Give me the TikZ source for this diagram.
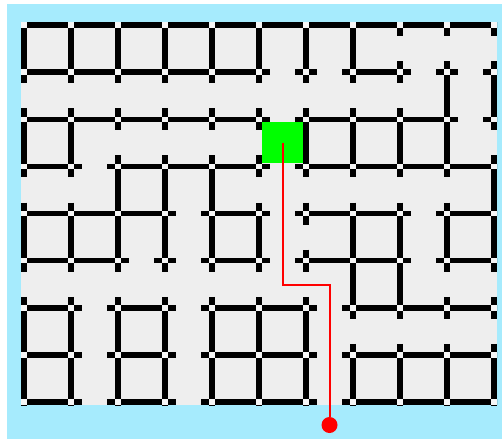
\documentclass[tikz,border=0pt]{standalone}
\definecolor{skyb}{HTML}{A6EBFD}
\definecolor{mazebg}{HTML}{EEEEEE}
\definecolor{goalgreen}{HTML}{00FF00}
\definecolor{vtx}{HTML}{F6F6F6}
\tikzset{
  wall/.style={line width=5.5pt, black},
  vertexgap/.style={fill=vtx},
  pathline/.style={red, line width=2pt},
}
\begin{document}
\begin{tikzpicture}[x=1pt,y=-1pt]
\useasboundingbox (0,0) rectangle (502,439);
\fill[white] (0,0) rectangle (502,439);
\fill[skyb] (7,4) rectangle (502,439);
\fill[mazebg] (21,22) rectangle (497,405);
\begin{scope}
\clip (21,22) rectangle (497,405);
% plus marks at every grid vertex
\foreach \i in {0,...,10} {
  \foreach \j in {0,...,8} {
    \draw[wall] ({24+47*\i-11},{25+47.125*\j}) -- ({24+47*\i+11},{25+47.125*\j});
    \draw[wall] ({24+47*\i},{25+47.125*\j-11}) -- ({24+47*\i},{25+47.125*\j+11});
  }
}
% horizontal walls: row / list of columns
\foreach \j/\is in {0/{0,1,2,3,4,5,6,7,8,9},
                    1/{0,1,2,3,4,7},
                    2/{0,1,2,3,4,6,7,8},
                    3/{0,2,3,4,6,7,8,9},
                    4/{0,1,2,4,6,7,9},
                    5/{0,1,4,6,7,9},
                    6/{0,2,4,5,7,8,9},
                    7/{0,2,4,5,7,8,9},
                    8/{0,2,4,5,7,8,9}} {
  \foreach \i in \is {
    \draw[wall] ({24+47*\i},{25+47.125*\j}) -- ({71+47*\i},{25+47.125*\j});
  }
}
% vertical walls: column / list of rows
\foreach \i/\js in {0/{0,2,4,6,7},
                    1/{0,2,4,6,7},
                    2/{0,3,4,6,7},
                    3/{0,3,4,6,7},
                    4/{0,3,4,6,7},
                    5/{0,4,6,7},
                    6/{0,2,6,7},
                    7/{0,2,4,5,7},
                    8/{2,4,5,7},
                    9/{1,2,4,7},
                    10/{1,3,4,7}} {
  \foreach \j in \js {
    \draw[wall] ({24+47*\i},{25+47.125*\j}) -- ({24+47*\i},{72.125+47.125*\j});
  }
}
% light gaps at the vertices
\foreach \i in {0,...,10} {
  \foreach \j in {0,...,8} {
    \fill[vertexgap] ({24+47*\i-2.75},{25+47.125*\j-2.75}) rectangle ({24+47*\i+2.75},{25+47.125*\j+2.75});
  }
}
\end{scope}
% goal cell and route
\node[fill=goalgreen, minimum size=41pt, inner sep=0pt, draw=none] (goal) at (282.5,142.5) {};
\node[circle, fill=red, minimum size=16pt, inner sep=0pt, draw=none] (start) at (329.5,425) {};
\coordinate (bendA) at (282.5,284.5);
\coordinate (bendB) at (329.5,284.5);
\draw[pathline] (goal.center) -- (bendA) -- (bendB) -- (start);
\end{tikzpicture}
\end{document}
